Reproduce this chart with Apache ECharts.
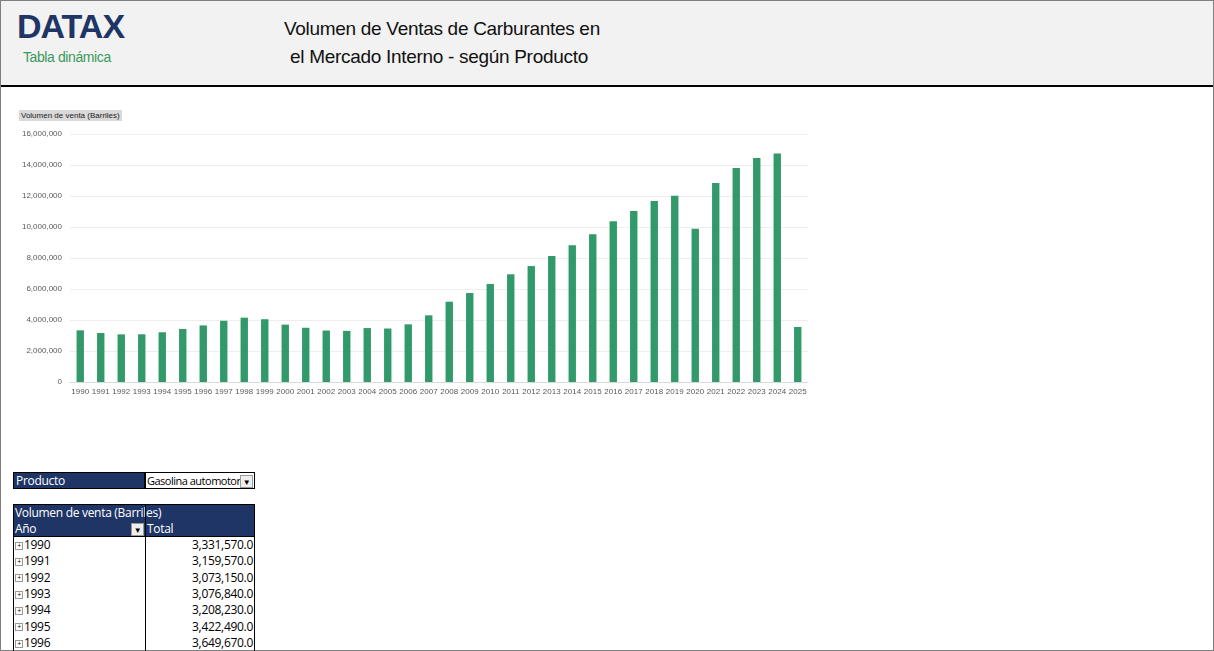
<!DOCTYPE html>
<html><head><meta charset="utf-8">
<script src="https://cdn.jsdelivr.net/npm/echarts@6/dist/echarts.min.js"></script>
<style>
body{margin:0;width:1214px;height:651px;overflow:hidden;font-family:"Liberation Sans","DejaVu Sans",sans-serif;background:#fff;position:relative}
#frame{position:absolute;left:0;top:0;width:1212px;height:649px;border:1px solid #7f7f7f}
#hdr{position:absolute;left:1px;top:1px;width:1212px;height:84px;background:#f2f2f2;border-bottom:2px solid #000}
.t{position:absolute;white-space:nowrap}
#chart{position:absolute;left:10px;top:100px;width:810px;height:310px}
.cell{position:absolute;font-size:12px;line-height:16px;height:16px;color:#000;white-space:nowrap;font-family:"Open Sans","Liberation Sans",sans-serif;letter-spacing:-0.3px}
</style></head><body>
<div id="frame"></div>
<div id="hdr">
<div class="t" style="left:16px;top:6px;font-size:34px;font-weight:bold;color:#1f3566;letter-spacing:-1px;font-family:'Liberation Sans',sans-serif;transform:scaleX(1.0);">DATAX</div>
<div class="t" style="left:22px;top:48px;font-size:14px;color:#3a9a5c;letter-spacing:-0.4px">Tabla dinámica</div>
<div class="t" style="left:283px;top:17px;font-size:19px;color:#111;letter-spacing:-0.3px">Volumen de Ventas de Carburantes en</div>
<div class="t" style="left:289px;top:45px;font-size:19px;color:#111;letter-spacing:-0.3px">el Mercado Interno - según Producto</div>
</div>
<div class="t" style="left:19px;top:110px;font-size:8px;background:#d9d9d9;padding:1px 2px;color:#222">Volumen de venta (Barriles)</div>
<div id="chart"></div>
<div id="tbl"></div>
<script>
const years=["1990","1991","1992","1993","1994","1995","1996","1997","1998","1999","2000","2001","2002","2003","2004","2005","2006","2007","2008","2009","2010","2011","2012","2013","2014","2015","2016","2017","2018","2019","2020","2021","2022","2023","2024","2025"];
const volumes=[3331570,3159570,3073150,3076840,3208230,3422490,3649670,3950000,4150000,4050000,3700000,3500000,3320000,3300000,3480000,3450000,3720000,4300000,5180000,5740000,6320000,6950000,7480000,8130000,8820000,9530000,10370000,11030000,11680000,12020000,9890000,12840000,13800000,14450000,14750000,3550000];
const tableYears=years.slice(0,7);
const tableVals=volumes.slice(0,7);

const c=echarts.init(document.getElementById('chart'));
c.setOption({
 animation:false,
 grid:{left:60,right:12,top:34,bottom:28},
 xAxis:{type:'category',data:years,axisTick:{show:false},axisLine:{lineStyle:{color:'#d9d9d9'}},
  axisLabel:{color:'#595959',fontSize:8,interval:0,margin:6}},
 yAxis:{type:'value',min:0,max:16000000,interval:2000000,
  axisLabel:{color:'#595959',fontSize:8,formatter:v=>v.toLocaleString('en-US')},
  splitLine:{lineStyle:{color:'#eeeeee'}}},
 series:[{type:'bar',data:volumes,barWidth:'36%',itemStyle:{color:'#31996a'}}]
});

const T=document.getElementById('tbl');
function box(l,t,w,h,bg,html,extra){const d=document.createElement('div');d.className='cell';d.style.cssText+=`left:${l}px;top:${t}px;width:${w}px;height:${h}px;background:${bg};${extra||''}`;d.innerHTML=html;T.appendChild(d);}
box(13,472,132,17,'#1f3566','<span style="color:#fff;padding-left:2px">Producto</span>','border:1px solid #000;box-sizing:border-box');
box(145,472,110,17,'#fff','<span style="padding-left:1px;font-size:11px;letter-spacing:-0.5px">Gasolina automotor</span><span style="position:absolute;right:1px;top:2px;width:11px;height:11px;border:1px solid #999;background:#eee;font-size:8px;line-height:11px;text-align:center">▼</span>','border:1px solid #000;box-sizing:border-box');
box(13,504,242,33,'#1f3566','','border:1px solid #000;box-sizing:border-box');
box(15,505,130,16,'transparent','<span style="color:#fff">Volumen de venta (Barriles)</span>');
box(15,521,130,16,'transparent','<span style="color:#fff">Año</span><span style="position:absolute;right:1px;top:2px;width:11px;height:11px;background:#eee;border:1px solid #999;font-size:8px;line-height:11px;text-align:center">▼</span>');
box(147,521,100,16,'transparent','<span style="color:#fff">Total</span>');
box(145,504,1,147,'#000','');
box(13,537,1,114,'#000','');
box(254,537,1,114,'#000','');
tableYears.forEach((y,i)=>{
 const top=537+i*16.3;
 box(15,top,128,16,'transparent','<span style="font-size:7px;border:1px solid #999;display:inline-block;width:6px;height:6px;line-height:6px;text-align:center;vertical-align:middle;margin-right:1px">+</span>'+y);
 box(147,top,106,16,'transparent',tableVals[i].toLocaleString('en-US',{minimumFractionDigits:1,maximumFractionDigits:1}),'text-align:right');
});
</script></body></html>
